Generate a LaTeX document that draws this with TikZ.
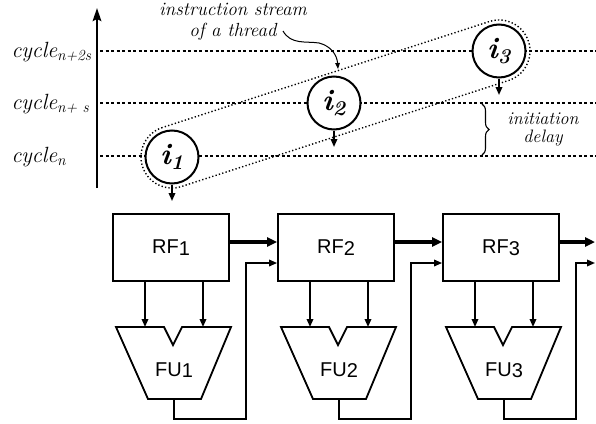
\documentclass[tikz,border=0pt]{standalone}
\usepackage{fontspec}
\newfontfamily\labelsans{Liberation Sans}
\usetikzlibrary{arrows.meta,decorations.pathreplacing,calc}
\begin{document}
\begin{tikzpicture}[x=1pt,y=-1pt,
  cycleline/.style={dash pattern=on 3pt off 2.5pt, line width=1.3pt},
  envelope/.style={dash pattern=on 1.3pt off 2.2pt, line width=1.4pt},
  inode/.style={circle, draw, line width=2pt, fill=white, minimum size=53pt,
    inner sep=0pt, font=\fontsize{30}{30}\selectfont\bfseries\itshape},
  rfbox/.style={draw, line width=1.8pt, minimum width=116pt, minimum height=67pt,
    inner sep=0pt, font=\labelsans\fontsize{20}{20}\selectfont},
  fushape/.style={draw, line width=1.8pt, line join=miter},
  fulabel/.style={font=\labelsans\fontsize{20}{20}\selectfont},
  cyclelabel/.style={anchor=base west, font=\fontsize{22}{22}\selectfont\itshape},
  note/.style={align=center, font=\fontsize{19}{21}\selectfont\itshape},
  thinarrow/.style={line width=1.7pt, -{Triangle[length=8pt,width=6.5pt]}},
  thickarrow/.style={line width=3.3pt, -{Triangle[length=10pt,width=9pt]}},
  axisarrow/.style={line width=2.6pt, -{Stealth[length=13pt,width=8.5pt,inset=2pt]}},
]
\useasboundingbox (0,0) rectangle (596,423);

% time axis
\coordinate (axisbot) at (97,188);
\coordinate (axistop) at (97,8);
\draw[axisarrow] (axisbot) -- (axistop);

% cycle lines and labels
\foreach \name/\yy in {c2/51, c1/103, c0/156} {
  \coordinate (\name a) at (100,\yy);
  \coordinate (\name b) at (596,\yy);
  \draw[cycleline] (\name a) -- (\name b);
}
\node[cyclelabel] (lab2) at (8,57) {cycle\textsubscript{n+2s}};
\node[cyclelabel] (lab1) at (8,109) {cycle\textsubscript{n+ s}};
\node[cyclelabel] (lab0) at (8,162) {cycle\textsubscript{n}};

% instruction stream envelope
\coordinate (p1) at (172,157);
\coordinate (p2) at (334,103);
\coordinate (p3) at (499,51);
\draw[envelope] ($(p1)+(-108:31)$) arc[start angle=-108, end angle=-288, radius=31]
  -- ($(p3)+(72:31)$) arc[start angle=72, end angle=-108, radius=31] -- cycle;

% instructions
\node[inode] (i1) at (p1) {i\textsubscript{1}};
\node[inode] (i2) at (p2) {i\textsubscript{2}};
\node[inode] (i3) at (p3) {i\textsubscript{3}};
\coordinate (i1out) at (172,201);
\coordinate (i2out) at (334,147);
\coordinate (i3out) at (499,95);
\draw[thinarrow] (i1.south) -- (i1out);
\draw[thinarrow] (i2.south) -- (i2out);
\draw[thinarrow] (i3.south) -- (i3out);

% annotations
\node[note] (stream) at (233,22) {instruction stream\\of a thread};
\coordinate (curlstart) at (283,31);
\coordinate (curlend) at (338,69);
\draw[line width=1pt, -{Triangle[length=6pt,width=4.5pt]}] (curlstart)
  .. controls (291,45) and (306,41) .. (319,43)
  .. controls (331,46) and (337,55) .. (curlend);
\coordinate (bracetop) at (482,104);
\coordinate (bracebot) at (482,155);
\draw[line width=1.1pt, decorate, decoration={brace, amplitude=7pt}] (bracetop) -- (bracebot);
\node[note, font=\fontsize{18}{18}\selectfont\itshape] (delay) at (543,129) {initiation\\delay};

% pipeline stages: register file feeding a functional unit
\foreach \k/\L in {1/113, 2/278, 3/443} {
  \node[rfbox] (rf\k) at ({\L+58},247.5) {RF\raisebox{-1.5pt}{\k}};
  \draw[fushape] (\L+3,327) -- (\L+51,327) -- (\L+60,345) -- (\L+69,327)
    -- (\L+118,327) -- (\L+88,399) -- (\L+35,399) -- cycle;
  \node[fulabel] (fu\k) at ({\L+61},370) {FU\raisebox{-1.5pt}{\k}};
  \coordinate (fu\k a) at (\L+32,327);
  \coordinate (fu\k b) at (\L+90,327);
  \coordinate (fu\k o) at (\L+61,399);
  \coordinate (fu\k r) at (\L+133,419);
  \draw[thinarrow] (rf\k.south -| fu\k a) -- (fu\k a);
  \draw[thinarrow] (rf\k.south -| fu\k b) -- (fu\k b);
}

% forwarding between stages
\coordinate (out1) at (595,242);
\coordinate (out2) at (595,263);
\draw[thickarrow] ([yshift=5.5pt]rf1.east) -- ([yshift=5.5pt]rf2.west);
\draw[thickarrow] ([yshift=5.5pt]rf2.east) -- ([yshift=5.5pt]rf3.west);
\draw[thickarrow] ([yshift=5.5pt]rf3.east) -- (out1);
\draw[thinarrow] (fu1o) |- (fu1r) |- ([yshift=-15.5pt]rf2.west);
\draw[thinarrow] (fu2o) |- (fu2r) |- ([yshift=-15.5pt]rf3.west);
\draw[thinarrow] (fu3o) |- (fu3r) |- (out2);
\end{tikzpicture}
\end{document}
